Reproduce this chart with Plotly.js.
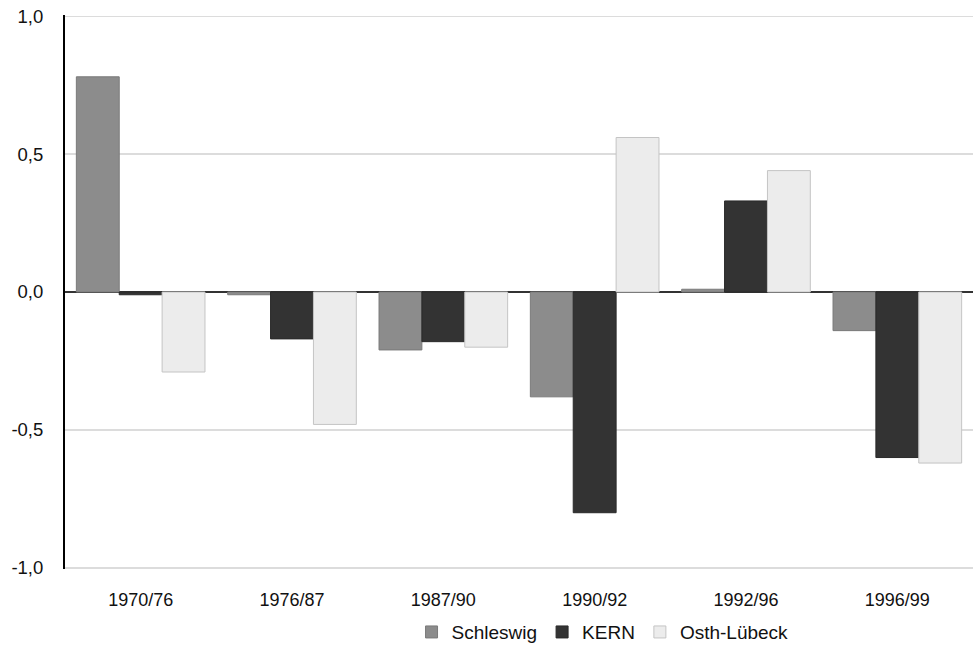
<!DOCTYPE html>
<html>
<head>
<meta charset="utf-8">
<script src="https://cdn.plot.ly/plotly-3.0.1.min.js"></script>
<style>body{margin:0;padding:0;background:#fff;}#chart{width:973px;height:645px;}</style>
</head>
<body>
<div id="chart"></div>
<script>
const categories = ["1970/76", "1976/87", "1987/90", "1990/92", "1992/96", "1996/99"];
const schleswig = [0.78, -0.01, -0.21, -0.38, 0.01, -0.14];
const kern = [-0.01, -0.17, -0.18, -0.80, 0.33, -0.60];
const osthLuebeck = [-0.29, -0.48, -0.20, 0.56, 0.44, -0.62];
const seriesNames = ["Schleswig", "KERN", "Osth-Lübeck"];
const yTicks = [-1.0, -0.5, 0.0, 0.5, 1.0];
const yTickLabels = ["-1,0", "-0,5", "0,0", "0,5", "1,0"];

const colors = ["#8c8c8c", "#333333", "#ececec"];
const borders = ["#7a7a7a", "#2a2a2a", "#c4c4c4"];
const values = [schleswig, kern, osthLuebeck];

const traces = values.map((v, i) => ({
  type: "bar",
  name: seriesNames[i],
  x: categories,
  y: v,
  marker: {color: colors[i], line: {color: borders[i], width: 1}},
  hoverinfo: "none"
}));

const layout = {
  width: 973, height: 645,
  margin: {l: 65, r: 0, t: 15, b: 76, autoexpand: false},
  paper_bgcolor: "#ffffff",
  plot_bgcolor: "#ffffff",
  separators: ",.",
  font: {family: "Liberation Sans, Arial, sans-serif", color: "#000"},
  barmode: "group",
  bargap: 0.15,
  bargroupgap: 0,
  showlegend: true,
  legend: {
    orientation: "h", xref: "paper", x: 0.592, xanchor: "center",
    yref: "container", y: 0.02, yanchor: "middle",
    font: {size: 19, color: "#111"}, itemwidth: 30, traceorder: "normal"
  },
  xaxis: {
    type: "category",
    showline: false, showgrid: false, zeroline: false,
    ticks: "", tickfont: {size: 18, color: "#111"},
    ticklabelstandoff: 18
  },
  yaxis: {
    range: [-1.004, 1.004],
    tickmode: "array", tickvals: yTicks, ticktext: yTickLabels,
    showgrid: true, gridcolor: "#dcdcdc", gridwidth: 1.2,
    zeroline: true, zerolinecolor: "#333333", zerolinewidth: 1.5,
    showline: true, linecolor: "#000", linewidth: 2,
    ticks: "", tickfont: {size: 18.5, color: "#111"},
    ticklabelstandoff: 16
  }
};

Plotly.newPlot("chart", traces, layout, {staticPlot: true, displayModeBar: false});
</script>
</body>
</html>
